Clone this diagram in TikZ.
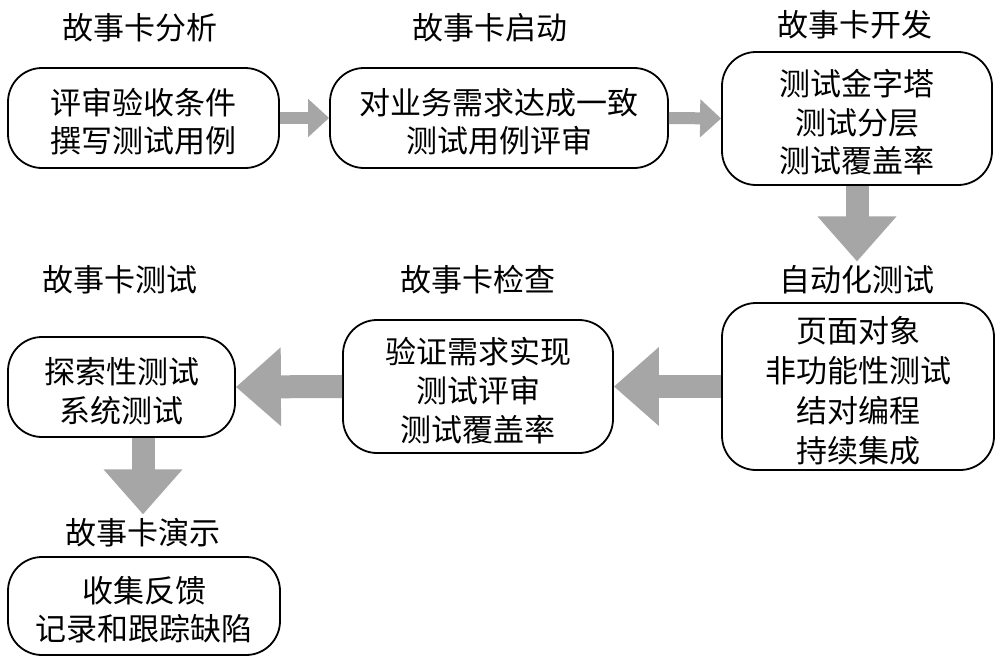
\documentclass[tikz,border=0pt]{standalone}
\usepackage{fontspec}
\setmainfont{Noto Sans CJK SC}
\usetikzlibrary{arrows.meta}
\definecolor{arrowgray}{HTML}{A6A6A6}
\newcommand\toplift{\rule{0pt}{34pt}}
\begin{document}
\begin{tikzpicture}[x=1pt,y=-1pt,
  box/.style={draw=black, line width=1.8pt, rounded corners=34pt, align=center, inner sep=0pt,
    font=\fontsize{31}{38.5}\selectfont},
  ttl/.style={inner sep=0pt, font=\fontsize{31}{38.5}\selectfont},
  flowS/.style={draw=arrowgray, line width=12pt, -{Triangle[length=21pt,width=37pt]}},
  flowL/.style={draw=arrowgray, line width=23pt, -{Triangle[length=45pt,width=76pt]}}]
\useasboundingbox (0,0) rectangle (1000,669);
\fill[white] (0,0) rectangle (1000,669);

% titles
\node[ttl] (t1) at (140,28) {故事卡分析};
\node[ttl] (t2) at (490,28) {故事卡启动};
\node[ttl] (t3) at (855,25) {故事卡开发};
\node[ttl] (t4) at (857,280) {自动化测试};
\node[ttl] (t5) at (478,280) {故事卡检查};
\node[ttl] (t6) at (120,280) {故事卡测试};
\node[ttl] (t7) at (143,533) {故事卡演示};

% boxes
\node[box, minimum width=271pt, minimum height=100pt] (b1) at (143.5,118) {\toplift 评审验收条件\\撰写测试用例};
\node[box, minimum width=338pt, minimum height=100pt] (b2) at (499,118) {\toplift 对业务需求达成一致\\测试用例评审};
\node[box, minimum width=270pt, minimum height=133pt] (b3) at (857,118.5) {\toplift 测试金字塔\\测试分层\\测试覆盖率};
\node[box, minimum width=272pt, minimum height=167pt, font=\fontsize{31}{40}\selectfont] (b4) at (858,386.5) {\toplift 页面对象\\非功能性测试\\结对编程\\持续集成};
\node[box, minimum width=270pt, minimum height=133pt, font=\fontsize{31}{39}\selectfont] (b5) at (478,386.5) {\toplift 验证需求实现\\测试评审\\测试覆盖率};
\node[box, minimum width=227pt, minimum height=100pt] (b6) at (121.5,387) {\toplift 探索性测试\\系统测试};
\node[box, minimum width=272pt, minimum height=98pt] (b7) at (144,606) {\toplift 收集反馈\\记录和跟踪缺陷};

% arrows
\draw[flowS] (b1.east) -- (b2.west);
\draw[flowS] (b2.east) -- (b3.west);
\draw[flowL, shorten >=4pt] (b3.south) -- (t4.north);
\draw[flowL] (b4.west) -- (b5.east);
\draw[flowL] (b5.west) -- (b6.east);
\draw[flowL, shorten >=4pt] (t7.north |- b6.south) -- (t7.north);
\end{tikzpicture}
\end{document}
